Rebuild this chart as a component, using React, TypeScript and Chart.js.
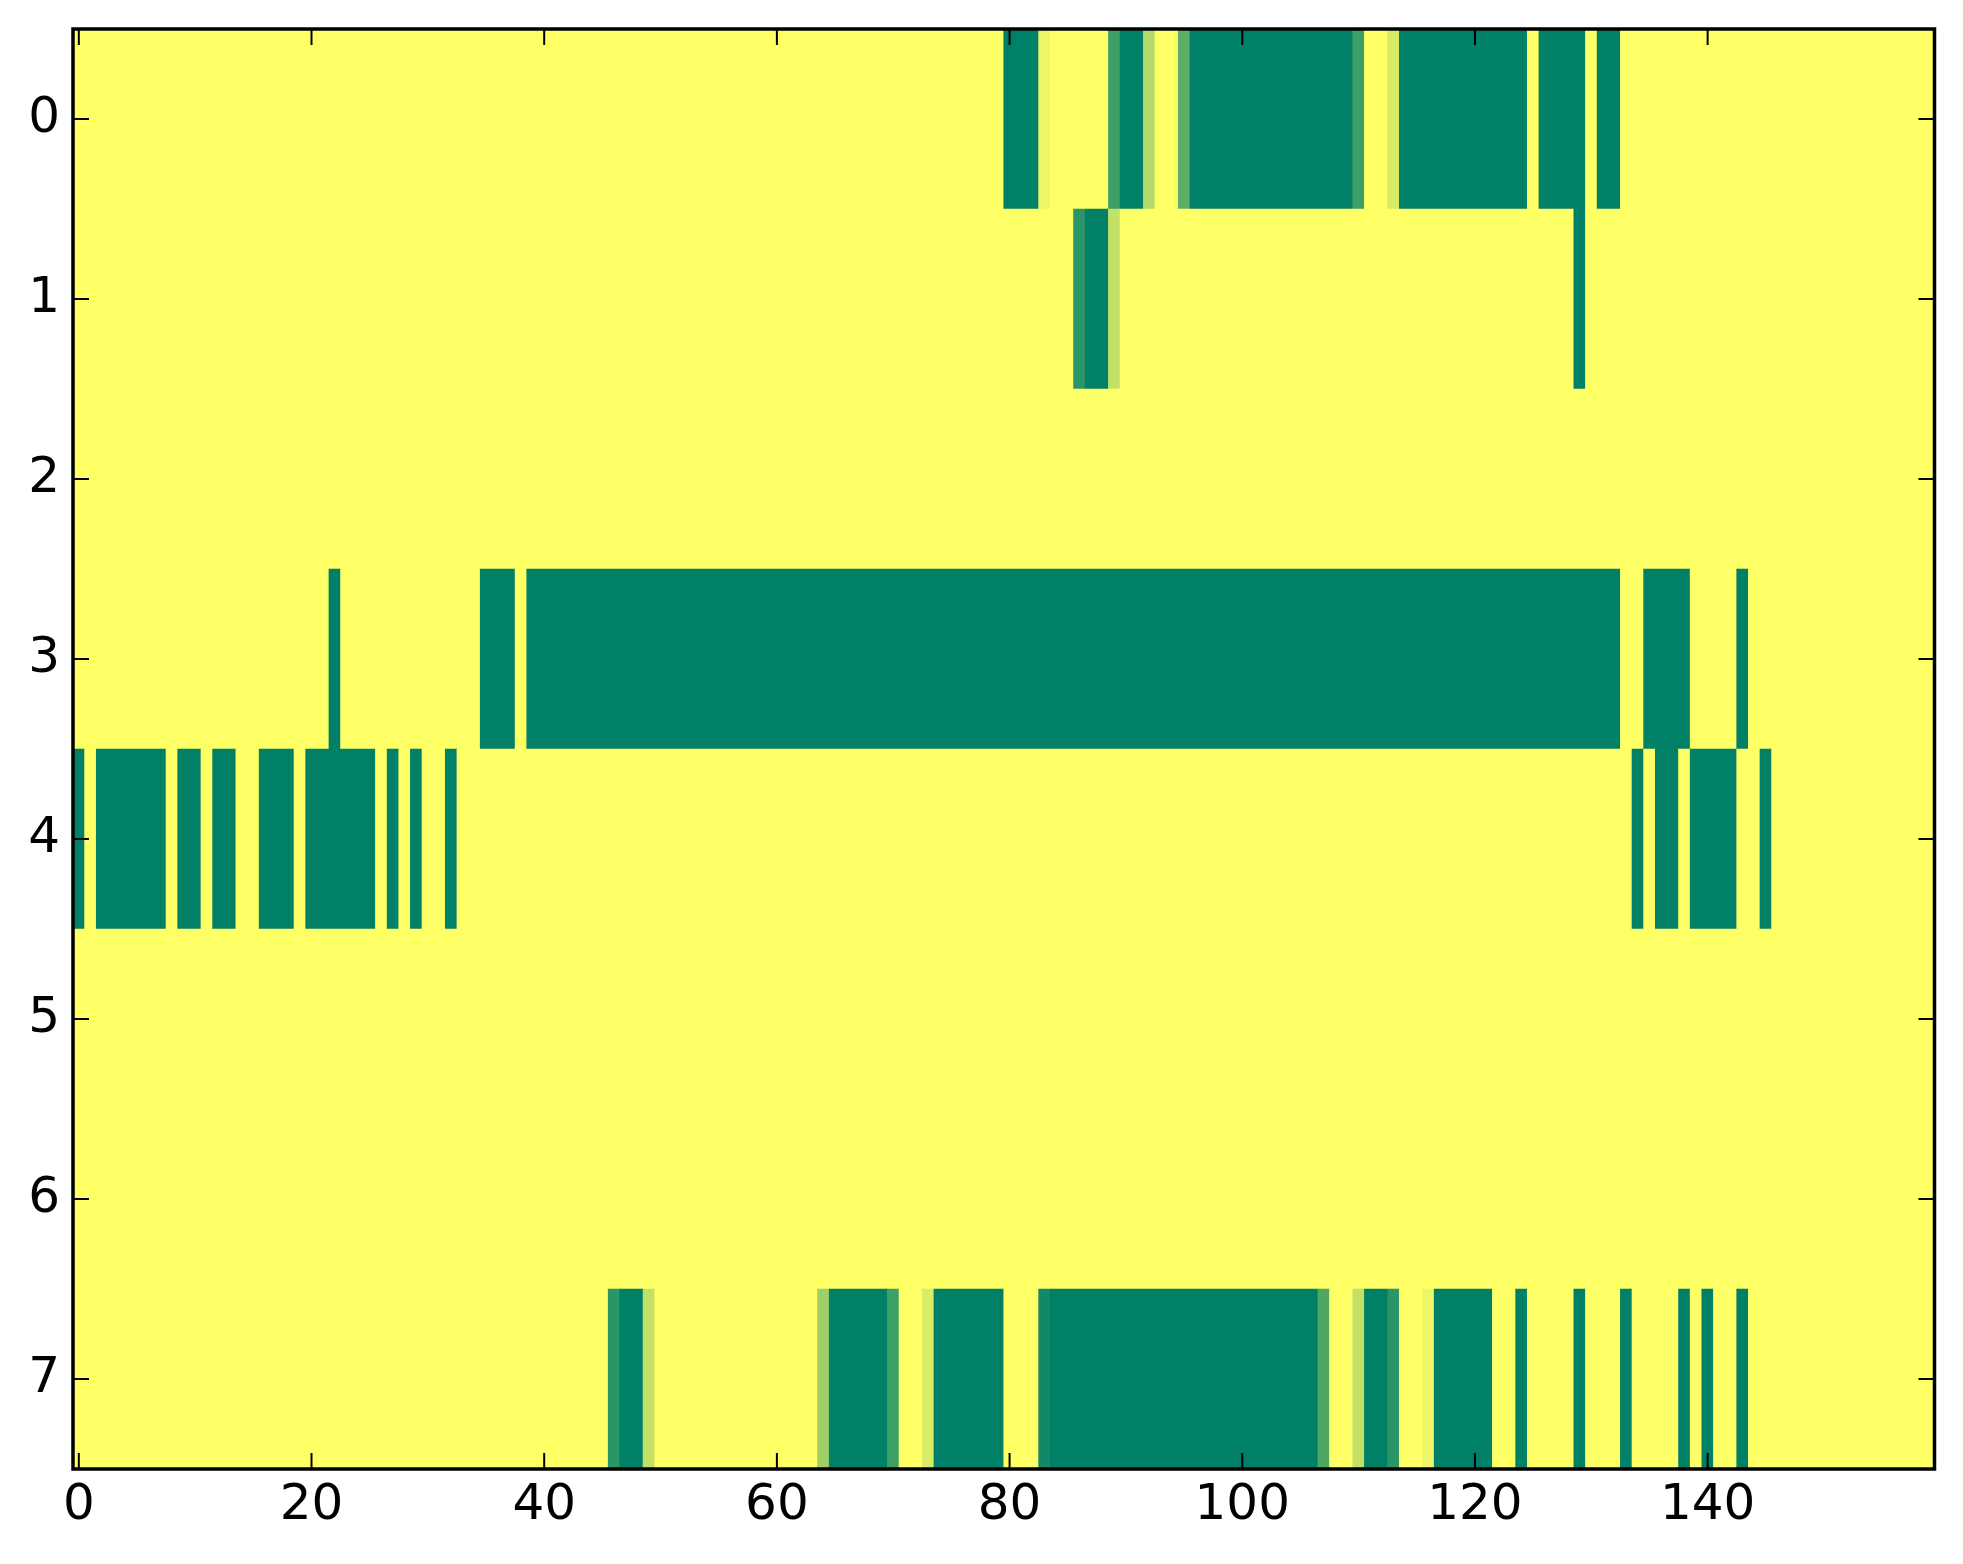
import React, { useEffect, useRef } from "react";
import { Chart, registerables } from "chart.js";

Chart.register(...registerables);

// ---- data ----
const N_COLS = 160;
const rowLabels = ["0", "1", "2", "3", "4", "5", "6", "7"];
const xTickValues = [0, 20, 40, 60, 80, 100, 120, 140];

// non-zero runs per row: [firstColumn, lastColumn, value]  (value 1 = dark green, 0 = yellow)
const row0 = [
  [80, 82, 1], [83, 83, 0.07], [89, 89, 0.76], [90, 91, 1], [92, 92, 0.3],
  [95, 95, 0.63], [96, 109, 1], [110, 110, 0.76], [113, 113, 0.15],
  [114, 124, 1], [126, 129, 1], [131, 132, 1],
];
const row1 = [[86, 86, 0.835], [87, 88, 1], [89, 89, 0.235], [129, 129, 1]];
const row2: number[][] = [];
const row3 = [[22, 22, 1], [35, 37, 1], [39, 132, 1], [135, 138, 1], [143, 143, 1]];
const row4 = [
  [0, 0, 1], [2, 7, 1], [9, 10, 1], [12, 13, 1], [16, 18, 1], [20, 25, 1],
  [27, 27, 1], [29, 29, 1], [32, 32, 1], [134, 134, 1], [136, 137, 1],
  [139, 142, 1], [145, 145, 1],
];
const row5: number[][] = [];
const row6: number[][] = [];
const row7 = [
  [46, 46, 0.835], [47, 48, 1], [49, 49, 0.235], [64, 64, 0.38], [65, 69, 1],
  [70, 70, 0.76], [73, 73, 0.15], [74, 79, 1], [83, 83, 0.93], [84, 106, 1],
  [107, 107, 0.69], [110, 110, 0.235], [111, 112, 1], [113, 113, 0.835],
  [116, 116, 0.07], [117, 121, 1], [124, 124, 1], [129, 129, 1], [133, 133, 1],
  [138, 138, 1], [140, 140, 1], [143, 143, 1],
];
const rows = [row0, row1, row2, row3, row4, row5, row6, row7];

// summer_r colormap
function summerR(v: number): string {
  const t = 1 - v;
  const r = Math.round(255 * t);
  const g = Math.round(255 * (0.5 + 0.5 * t));
  const b = Math.round(255 * 0.4);
  return `rgb(${r},${g},${b})`;
}

function buildBars() {
  const data: any[] = [];
  const colors: string[] = [];
  rows.forEach((segs, ri) => {
    const cells = new Array(N_COLS).fill(0);
    segs.forEach(([s, e, v]) => {
      for (let c = s; c <= e; c++) cells[c] = v;
    });
    let start = 0;
    for (let c = 1; c <= N_COLS; c++) {
      if (c === N_COLS || cells[c] !== cells[start]) {
        data.push({ x: [start - 0.5, c - 1 + 0.5], y: rowLabels[ri] });
        colors.push(summerR(cells[start]));
        start = c;
      }
    }
  });
  return { data, colors };
}

const W = 1963;
const H = 1564;

const framePlugin = {
  id: "mplFrame",
  afterDraw(chart: any) {
    const { ctx, chartArea } = chart;
    const xs = chart.scales.x;
    const ys = chart.scales.y;
    const tl = 16;
    ctx.save();
    ctx.strokeStyle = "#000";
    ctx.lineWidth = 2;
    ctx.beginPath();
    xTickValues.forEach((v) => {
      const px = xs.getPixelForValue(v);
      ctx.moveTo(px, chartArea.bottom);
      ctx.lineTo(px, chartArea.bottom - tl);
      ctx.moveTo(px, chartArea.top);
      ctx.lineTo(px, chartArea.top + tl);
    });
    rowLabels.forEach((_, i) => {
      const py = ys.getPixelForValue(i);
      ctx.moveTo(chartArea.left, py);
      ctx.lineTo(chartArea.left + tl, py);
      ctx.moveTo(chartArea.right, py);
      ctx.lineTo(chartArea.right - tl, py);
    });
    ctx.stroke();
    ctx.lineWidth = 3.5;
    ctx.strokeRect(
      chartArea.left,
      chartArea.top,
      chartArea.right - chartArea.left,
      chartArea.bottom - chartArea.top
    );
    ctx.restore();
  },
};

export default function App() {
  const ref = useRef<HTMLCanvasElement | null>(null);
  useEffect(() => {
    if (!ref.current) return;
    const { data, colors } = buildBars();
    const font = { family: "DejaVu Sans", size: 50 };
    const chart = new Chart(ref.current, {
      type: "bar",
      data: {
        labels: rowLabels,
        datasets: [
          {
            data,
            backgroundColor: colors,
            borderWidth: 0,
            barPercentage: 1,
            categoryPercentage: 1,
          } as any,
        ],
      },
      options: {
        indexAxis: "y",
        animation: false,
        responsive: false,
        devicePixelRatio: 1,
        layout: { padding: { left: 0, top: 29, right: 28.5, bottom: 0 } },
        plugins: { legend: { display: false }, tooltip: { enabled: false } },
        scales: {
          x: {
            type: "linear",
            position: "bottom",
            min: -0.5,
            max: N_COLS - 0.5,
            grid: { display: false, drawTicks: false },
            border: { display: false },
            afterBuildTicks: (scale: any) => {
              scale.ticks = xTickValues.map((v) => ({ value: v }));
            },
            afterFit: (scale: any) => {
              scale.height = 95;
              scale.paddingLeft = 0;
              scale.paddingRight = 0;
              scale.paddingTop = 0;
              scale.paddingBottom = 0;
            },
            ticks: {
              font,
              color: "#000",
              padding: 7,
              maxRotation: 0,
              autoSkip: false,
              callback: (v: any) => String(v),
            },
          },
          y: {
            type: "category",
            labels: rowLabels,
            offset: true,
            grid: { display: false, drawTicks: false },
            border: { display: false },
            afterFit: (scale: any) => {
              scale.width = 73;
              scale.paddingLeft = 0;
              scale.paddingRight = 0;
              scale.paddingTop = 0;
              scale.paddingBottom = 0;
            },
            ticks: { font, color: "#000", padding: 13, autoSkip: false },
          },
        },
      } as any,
      plugins: [framePlugin],
    });
    return () => chart.destroy();
  }, []);
  return (
    <div
      style={{
        position: "fixed",
        left: 0,
        top: 0,
        width: W,
        height: H,
        background: "#fff",
      }}
    >
      <canvas ref={ref} width={W} height={H} style={{ width: W, height: H }} />
    </div>
  );
}
